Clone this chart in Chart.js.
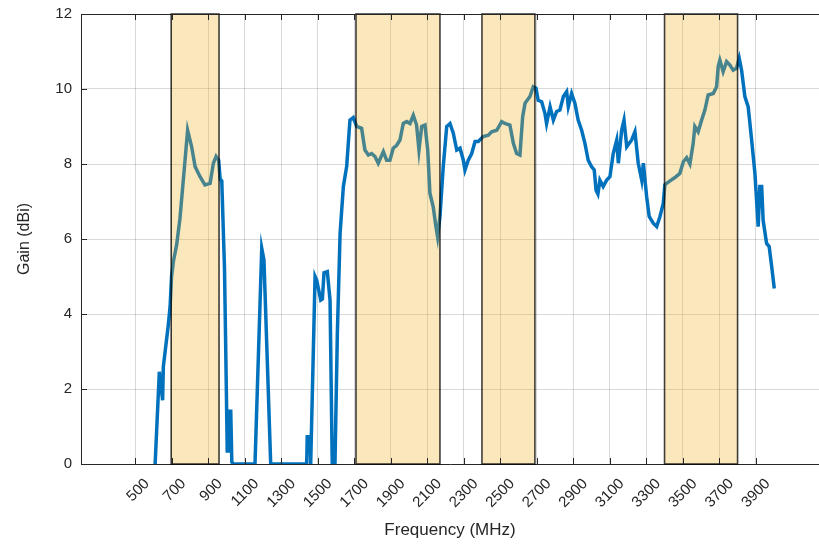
<!DOCTYPE html>
<html>
<head>
<meta charset="utf-8">
<script src="https://cdn.jsdelivr.net/npm/chart.js@4.4.0/dist/chart.umd.min.js"></script>
<style>
  html, body { margin: 0; padding: 0; background: #fff; }
  #wrap { width: 819px; height: 547px; }
</style>
</head>
<body>
<div id="wrap"><canvas id="chart"></canvas></div>
<script>
const freqMHz = [610, 633, 651, 655, 682, 692, 700, 710, 728, 746, 764, 788, 810, 829, 856, 883, 911, 929, 944, 958, 966, 975,
  990, 1000, 1005, 1012, 1018, 1024, 1030, 1040, 1146, 1157, 1194, 1206, 1243, 1440, 1443, 1458, 1462, 1486, 1495, 1517,
  1526, 1535, 1553, 1568, 1580, 1595, 1608, 1623, 1641, 1659, 1677, 1695, 1714, 1741, 1759, 1778, 1796, 1814, 1832, 1860,
  1878, 1896, 1914, 1933, 1951, 1969, 1988, 2006, 2024, 2042, 2055, 2070, 2088, 2103, 2115, 2133, 2148, 2157, 2170, 2188,
  2207, 2225, 2243, 2262, 2280, 2298, 2307, 2325, 2344, 2362, 2380, 2407, 2435, 2453, 2481, 2508, 2526, 2553, 2572, 2590,
  2608, 2623, 2636, 2663, 2681, 2696, 2708, 2727, 2745, 2754, 2773, 2791, 2809, 2827, 2846, 2864, 2873, 2891, 2909, 2927,
  2946, 2964, 2982, 3000, 3015, 3025, 3035, 3046, 3064, 3083, 3101, 3119, 3138, 3147, 3165, 3178, 3193, 3220, 3238, 3256,
  3275, 3284, 3302, 3316, 3338, 3357, 3375, 3393, 3402, 3430, 3457, 3484, 3503, 3521, 3539, 3557, 3566, 3584, 3603, 3621,
  3639, 3667, 3685, 3694, 3703, 3721, 3740, 3758, 3776, 3794, 3809, 3822, 3840, 3858, 3877, 3895, 3913, 3922, 3932, 3940,
  3959, 3973, 3987, 4001];
const gainDbi = [0, 2.46, 1.7, 2.6, 3.7, 4.2, 5.0, 5.4, 5.85, 6.55, 7.55, 8.9, 8.46, 7.93, 7.66, 7.44, 7.48, 8.02, 8.2, 8.1, 7.6, 7.55,
  5.2, 2.0, 0.3, 1.45, 0.3, 1.45, 0.05, 0, 0, 0, 5.75, 5.44, 0, 0, 0.73, 0.73, 0, 5.0, 4.9, 4.37,
  4.4, 5.1, 5.13, 4.37, 0, 0, 3.48, 6.15, 7.4, 7.93, 9.17, 9.24, 9.0, 8.95, 8.37, 8.24, 8.28, 8.2, 8.02, 8.33,
  8.1, 8.1, 8.42, 8.5, 8.64, 9.08, 9.13, 9.08, 9.3, 9.04, 8.37, 9.0, 9.04, 8.37, 7.22, 6.86, 6.33, 6.06, 6.6, 7.93,
  9.0, 9.08, 8.82, 8.37, 8.42, 8.1, 7.84, 8.1, 8.28, 8.6, 8.6, 8.73, 8.77, 8.86, 8.9, 9.13, 9.08, 9.04, 8.55, 8.28,
  8.24, 9.26, 9.62, 9.8, 10.06, 10.02, 9.7, 9.66, 9.35, 9.08, 9.53, 9.17, 9.4, 9.44, 9.8, 9.93, 9.53, 9.88, 9.62, 9.17,
  8.9, 8.55, 8.1, 7.93, 7.84, 7.3, 7.2, 7.57, 7.4, 7.57, 7.66, 8.28, 8.64, 8.02, 8.9, 9.17, 8.46, 8.64, 8.86, 8.02,
  7.57, 8.02, 7.13, 6.6, 6.42, 6.33, 6.6, 6.95, 7.45, 7.55, 7.64, 7.75, 8.06, 8.17, 8.0, 8.55, 9.0, 8.86, 9.17, 9.44,
  9.84, 9.88, 10.06, 10.6, 10.77, 10.46, 10.73, 10.64, 10.5, 10.55, 10.82, 10.5, 9.8, 9.53, 8.64, 7.75, 6.33, 7.4, 7.4, 6.5,
  5.88, 5.8, 5.26, 4.68];

// shaded bands (MHz)
const bandStart = [698, 1710, 2400, 3400];
const bandEnd = [960, 2170, 2690, 3800];

const xTicks = [500, 700, 900, 1100, 1300, 1500, 1700, 1900, 2100, 2300, 2500, 2700, 2900, 3100, 3300, 3500, 3700, 3900];
const yTicks = [0, 2, 4, 6, 8, 10, 12];

const axisColor = '#262626';
const fontFam = '"Liberation Sans", Arial, Helvetica, sans-serif';

// yellow bands drawn over the curve, like patch with FaceAlpha
const bandsPlugin = {
  id: 'bands',
  afterDatasetsDraw(chart) {
    let ctx = chart.ctx;
    let xs = chart.scales.x, ys = chart.scales.y;
    let top = ys.getPixelForValue(12), bottom = ys.getPixelForValue(0);
    ctx.save();
    bandStart.forEach((s, i) => {
      let x1 = xs.getPixelForValue(s), x2 = xs.getPixelForValue(bandEnd[i]);
      ctx.fillStyle = 'rgba(237,177,32,0.3)';
      ctx.fillRect(x1, top, x2 - x1, bottom - top);
      ctx.strokeStyle = 'rgba(0,0,0,0.75)';
      ctx.lineWidth = 1.6;
      ctx.strokeRect(x1, top, x2 - x1, bottom - top);
    });
    ctx.restore();
  }
};

// top border and inward tick marks
const framePlugin = {
  id: 'frame',
  afterDraw(chart) {
    let ctx = chart.ctx;
    let a = chart.chartArea;
    let xs = chart.scales.x, ys = chart.scales.y;
    ctx.save();
    ctx.strokeStyle = axisColor;
    ctx.lineWidth = 1;
    ctx.beginPath();
    ctx.moveTo(a.left, a.top + 0.5);
    ctx.lineTo(a.right, a.top + 0.5);
    xTicks.forEach(v => {
      let px = Math.round(xs.getPixelForValue(v)) + 0.5;
      ctx.moveTo(px, a.top);
      ctx.lineTo(px, a.top + 6);
      ctx.moveTo(px, a.bottom);
      ctx.lineTo(px, a.bottom - 6);
    });
    yTicks.forEach(v => {
      let py = Math.round(ys.getPixelForValue(v)) + 0.5;
      ctx.moveTo(a.left, py);
      ctx.lineTo(a.left + 6, py);
    });
    ctx.stroke();
    ctx.restore();
  }
};

let chLine = document.getElementById('chart');
let lineChart = new Chart(chLine, {
  type: 'line',
  data: {
    datasets: [{
      data: freqMHz.map((f, i) => ({ x: f, y: gainDbi[i] })),
      borderColor: '#0072BD',
      borderWidth: 3.5,
      pointRadius: 0,
      tension: 0,
      fill: false
    }]
  },
  options: {
    responsive: true,
    maintainAspectRatio: false,
    animation: false,
    layout: { padding: { top: 14, left: 0, right: 0, bottom: 0 } },
    plugins: { legend: { display: false }, tooltip: { enabled: false } },
    scales: {
      x: {
        type: 'linear',
        min: 204,
        max: 4246,
        afterBuildTicks: (axis) => { axis.ticks = xTicks.map(v => ({ value: v })); },
        afterFit: (scale) => { scale.height = 83; scale.paddingLeft = 0; scale.paddingRight = 0; },
        grid: { color: 'rgba(0,0,0,0.15)', drawTicks: false },
        border: { display: true, color: axisColor, width: 1 },
        ticks: {
          autoSkip: false,
          minRotation: 45,
          maxRotation: 45,
          padding: 11,
          labelOffset: 12,
          color: axisColor,
          font: { family: fontFam, size: 15 },
          callback: (v) => String(v)
        },
        title: {
          display: true,
          text: 'Frequency (MHz)',
          color: axisColor,
          font: { family: fontFam, size: 17 },
          padding: { top: 0, bottom: 6 }
        }
      },
      y: {
        min: 0,
        max: 12,
        afterBuildTicks: (axis) => { axis.ticks = yTicks.map(v => ({ value: v })); },
        afterFit: (scale) => { scale.width = 81; scale.paddingTop = 0; scale.paddingBottom = 0; },
        grid: { color: 'rgba(0,0,0,0.15)', drawTicks: false },
        border: { display: true, color: axisColor, width: 1 },
        ticks: {
          padding: 9,
          color: axisColor,
          font: { family: fontFam, size: 15 },
          callback: (v) => String(v)
        },
        title: {
          display: true,
          text: 'Gain (dBi)',
          color: axisColor,
          font: { family: fontFam, size: 16 },
          padding: { top: 15, bottom: 0 }
        }
      }
    }
  },
  plugins: [bandsPlugin, framePlugin]
});
</script>
</body>
</html>
